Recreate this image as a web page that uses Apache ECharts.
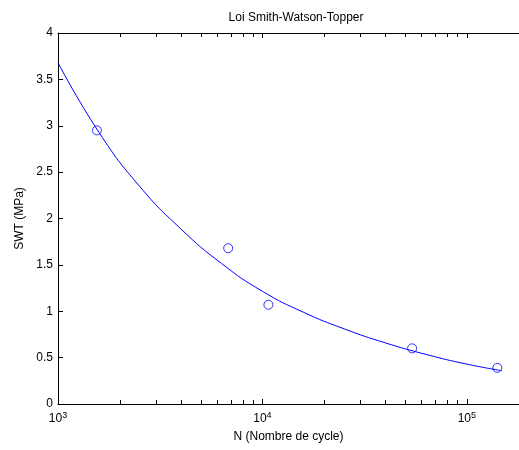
<!DOCTYPE html>
<html>
<head>
<meta charset="utf-8">
<script src="https://cdn.jsdelivr.net/npm/echarts@6/dist/echarts.min.js"></script>
<style>
html, body { margin: 0; padding: 0; background: #fff; }
#chart { width: 519px; height: 450px; }
</style>
</head>
<body>
<div id="chart"></div>
<script>
// measured points (circles)
var measN = [1550, 6800, 10700, 54000, 141000];
var measSWT = [2.95, 1.68, 1.07, 0.60, 0.39];

// fitted curve
var fitN = [1000, 1585, 2512, 3981, 6310, 10000, 15850, 25120, 39810, 63100, 100000, 148000];
var fitSWT = [3.68, 2.93, 2.345, 1.89, 1.515, 1.215, 0.99, 0.81, 0.66, 0.535, 0.43, 0.36];

// log minor ticks
var minorN = [2000, 3000, 4000, 5000, 6000, 7000, 8000, 9000,
              20000, 30000, 40000, 50000, 60000, 70000, 80000, 90000];

var xMin = 1000, xMax = 180000;
var yMin = 0, yMax = 4, yStep = 0.5;

var font = 'Liberation Sans, Arial, sans-serif';

var myChart = echarts.init(document.getElementById('chart'));

function zip(a, b) {
    return a.map(function (v, i) { return [v, b[i]]; });
}

var option = {
    animation: false,
    backgroundColor: '#fff',
    title: {
        text: 'Loi Smith-Watson-Topper',
        left: 291,
        top: 7,
        textAlign: 'center',
        textStyle: { fontFamily: font, fontSize: 12, fontWeight: 'normal', color: '#000' }
    },
    grid: { left: 58, top: 33, right: 0, bottom: 46 },
    xAxis: [{
        type: 'log',
        logBase: 10,
        min: xMin,
        max: xMax,
        name: 'N (Nombre de cycle)',
        nameLocation: 'middle',
        nameGap: 27,
        nameTextStyle: { fontFamily: font, fontSize: 12, color: '#000' },
        axisLine: { show: true, lineStyle: { color: '#000', width: 1 } },
        axisTick: { show: true, inside: true, length: 5, lineStyle: { color: '#000' } },
        splitLine: { show: false },
        axisLabel: {
            margin: 7,
            showMaxLabel: false,
            formatter: function (v) {
                var e = Math.round(Math.log10(v));
                if (Math.abs(Math.log10(v) - e) > 1e-6) return '';
                return '{b|10}{s|' + e + '}';
            },
            rich: {
                b: { fontFamily: font, fontSize: 12, color: '#000', lineHeight: 16 },
                s: { fontFamily: font, fontSize: 9, color: '#000', verticalAlign: 'top', lineHeight: 16 }
            }
        }
    }, {
        type: 'log',
        logBase: 10,
        min: xMin,
        max: xMax,
        position: 'top',
        axisLine: { show: true, lineStyle: { color: '#000', width: 1 } },
        axisTick: { show: true, inside: true, length: 5, lineStyle: { color: '#000' } },
        axisLabel: { show: false },
        splitLine: { show: false }
    }],
    yAxis: {
        type: 'value',
        min: yMin,
        max: yMax,
        interval: yStep,
        name: 'SWT (MPa)',
        nameLocation: 'middle',
        nameGap: 32,
        nameTextStyle: { fontFamily: font, fontSize: 12, color: '#000' },
        axisLine: { show: true, lineStyle: { color: '#000', width: 1 } },
        axisTick: { show: true, inside: true, length: 5, lineStyle: { color: '#000' } },
        splitLine: { show: false },
        axisLabel: { margin: 5, fontFamily: font, fontSize: 12, color: '#000' }
    },
    series: [{
        name: 'fit',
        type: 'line',
        data: zip(fitN, fitSWT),
        smooth: true,
        showSymbol: false,
        lineStyle: { color: '#0000ff', width: 1 },
        silent: true
    }, {
        name: 'mesures',
        type: 'scatter',
        data: zip(measN, measSWT),
        symbol: 'circle',
        symbolSize: 9,
        itemStyle: { color: 'rgba(0,0,0,0)', borderColor: '#0000ff', borderWidth: 1 },
        silent: true
    }, {
        name: 'minor ticks',
        type: 'custom',
        data: minorN.map(function (v) { return [v, yMin]; }),
        encode: { x: 0, y: 1 },
        clip: false,
        silent: true,
        renderItem: function (params, api) {
            var b = api.coord([api.value(0), yMin]);
            var t = api.coord([api.value(0), yMax]);
            var x = Math.round(b[0]) + 0.5;
            return {
                type: 'group',
                children: [
                    { type: 'line', shape: { x1: x, y1: b[1], x2: x, y2: b[1] - 4 }, style: { stroke: '#000', lineWidth: 1 } },
                    { type: 'line', shape: { x1: x, y1: t[1], x2: x, y2: t[1] + 4 }, style: { stroke: '#000', lineWidth: 1 } }
                ]
            };
        }
    }]
};
myChart.setOption(option);
</script>
</body>
</html>
